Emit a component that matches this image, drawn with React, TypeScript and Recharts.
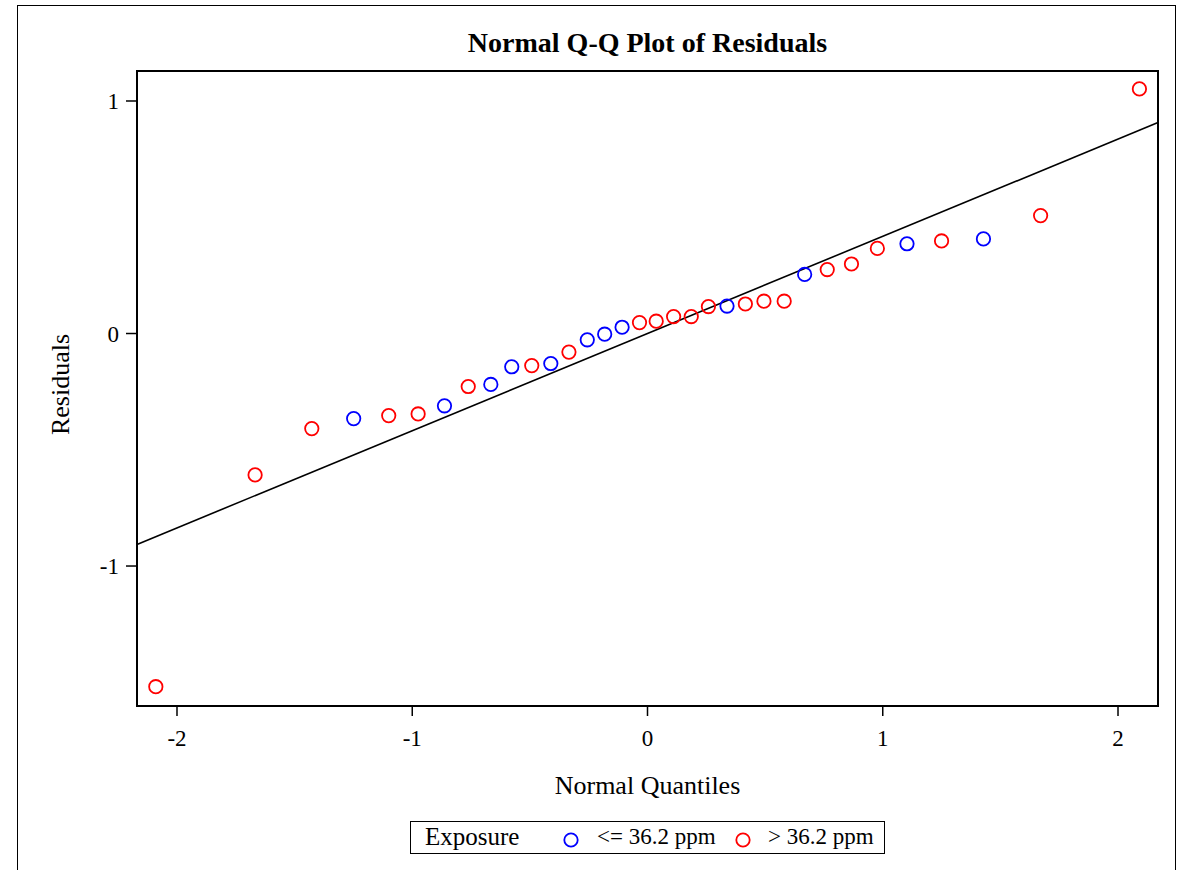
import React from 'react';
import {
  ScatterChart,
  Scatter,
  XAxis,
  YAxis,
  ReferenceArea,
  ReferenceLine,
} from 'recharts';

// normal quantiles and residuals
const normalQuantiles = [
  -2.09, -1.668, -1.427, -1.249, -1.1, -0.975, -0.863, -0.762, -0.666, -0.577, -0.492, -0.411,
  -0.334, -0.256, -0.182, -0.108, -0.034, 0.037, 0.111, 0.186, 0.259, 0.338, 0.416, 0.495,
  0.581, 0.668, 0.764, 0.867, 0.977, 1.103, 1.25, 1.428, 1.671, 2.091,
];
const residuals = [
  -1.519, -0.608, -0.409, -0.366, -0.353, -0.346, -0.311, -0.228, -0.219, -0.143, -0.138,
  -0.129, -0.08, -0.027, -0.003, 0.027, 0.047, 0.053, 0.073, 0.073, 0.116, 0.118, 0.127, 0.139,
  0.139, 0.254, 0.275, 0.299, 0.366, 0.386, 0.398, 0.407, 0.507, 1.052,
];
// 'L' = <= 36.2 ppm, 'H' = > 36.2 ppm
const exposureGroup = [
  'H', 'H', 'H', 'L', 'H', 'H', 'L', 'H', 'L', 'L', 'H', 'L', 'H', 'L', 'L', 'L', 'H',
  'H', 'H', 'H', 'H', 'L', 'H', 'H', 'H', 'L', 'H', 'H', 'H', 'L', 'H', 'L', 'H', 'H',
];

const xTicks = [-2, -1, 0, 1, 2];
const yTicks = [-1, 0, 1];
const xDomain: [number, number] = [-2.17, 2.17];
const yDomain: [number, number] = [-1.602, 1.129];

// reference line: residual = intercept + slope * quantile
const fitIntercept = 0;
const fitSlope = 0.418;

const FONT = '"Liberation Serif", "Times New Roman", serif';
const BLUE = '#0000ff';
const RED = '#ff0000';

type Pt = { q: number; r: number };

const points: (Pt & { g: string })[] = normalQuantiles.map((q, i) => ({
  q,
  r: residuals[i],
  g: exposureGroup[i],
}));
const lowData: Pt[] = points.filter((p) => p.g === 'L');
const highData: Pt[] = points.filter((p) => p.g === 'H');

const openCircle = (color: string) => (props: any) => {
  const { cx, cy } = props;
  if (cx == null || cy == null) return <g />;
  return <circle cx={cx} cy={cy} r={6.7} fill="none" stroke={color} strokeWidth={1.8} />;
};

const tickStyle = { fill: '#000', fontSize: 23, fontFamily: FONT };

const renderYLabel = (props: any) => {
  const vb = props.viewBox || {};
  const cx = 60;
  const cy = (vb.y ?? 71) + (vb.height ?? 635) / 2 - 4;
  return (
    <text
      x={cx}
      y={cy}
      transform={`rotate(-90, ${cx}, ${cy})`}
      textAnchor="middle"
      dominantBaseline="central"
      fontSize={26}
      fontFamily={FONT}
      fill="#000"
    >
      Residuals
    </text>
  );
};

const renderXLabel = (props: any) => {
  const vb = props.viewBox || {};
  const cx = (vb.x ?? 137) + (vb.width ?? 1021) / 2;
  return (
    <text
      x={cx}
      y={794}
      textAnchor="middle"
      fontSize={26}
      fontFamily={FONT}
      fill="#000"
    >
      Normal Quantiles
    </text>
  );
};

function LegendBox() {
  return (
    <div
      style={{
        position: 'absolute',
        left: 410,
        top: 821,
        width: 473,
        height: 31,
        border: '1.5px solid #000',
        fontFamily: FONT,
        fontSize: 23,
        color: '#000',
      }}
    >
      <span style={{ position: 'absolute', left: 14, top: 1, fontSize: 25 }}>Exposure</span>
      <svg style={{ position: 'absolute', left: 150, top: 8 }} width={20} height={20}>
        <circle cx={10} cy={10} r={6.7} fill="none" stroke={BLUE} strokeWidth={1.8} />
      </svg>
      <span style={{ position: 'absolute', left: 186, top: 2 }}>&lt;= 36.2 ppm</span>
      <svg style={{ position: 'absolute', left: 322, top: 8 }} width={20} height={20}>
        <circle cx={10} cy={10} r={6.7} fill="none" stroke={RED} strokeWidth={1.8} />
      </svg>
      <span style={{ position: 'absolute', left: 357, top: 2 }}>&gt; 36.2 ppm</span>
    </div>
  );
}

export default function App() {
  const lineSegment = [
    { x: xDomain[0], y: fitIntercept + fitSlope * xDomain[0] },
    { x: xDomain[1], y: fitIntercept + fitSlope * xDomain[1] },
  ];

  return (
    <div
      style={{
        position: 'absolute',
        left: 0,
        top: 0,
        width: 1182,
        height: 870,
        overflow: 'hidden',
        background: '#fff',
      }}
    >
      <div
        style={{
          position: 'absolute',
          left: 17,
          top: 5,
          width: 1157,
          height: 900,
          border: '1.5px solid #000',
        }}
      />
      <div
        style={{
          position: 'absolute',
          left: 137,
          top: 29,
          width: 1021,
          textAlign: 'center',
          fontFamily: FONT,
          fontWeight: 'bold',
          fontSize: 28,
          lineHeight: '28px',
          color: '#000',
        }}
      >
        Normal Q-Q Plot of Residuals
      </div>
      <div style={{ position: 'absolute', left: 0, top: 0 }}>
        <ScatterChart
          width={1182}
          height={870}
          margin={{ top: 71, right: 24, bottom: 0, left: 0 }}
        >
          <XAxis
            type="number"
            dataKey="q"
            domain={xDomain}
            ticks={xTicks}
            allowDataOverflow
            axisLine={false}
            tickSize={10}
            tickMargin={14}
            tickLine={{ stroke: '#000', strokeWidth: 1.5 }}
            tick={tickStyle}
            height={164}
            label={{ content: renderXLabel }}
          />
          <YAxis
            type="number"
            dataKey="r"
            domain={yDomain}
            ticks={yTicks}
            allowDataOverflow
            axisLine={false}
            tickSize={11}
            tickMargin={7}
            tickLine={{ stroke: '#000', strokeWidth: 1.5 }}
            tick={tickStyle}
            width={137}
            label={{ content: renderYLabel }}
          />
          <ReferenceArea
            x1={xDomain[0]}
            x2={xDomain[1]}
            y1={yDomain[0]}
            y2={yDomain[1]}
            fill="none"
            fillOpacity={0}
            stroke="#000"
            strokeWidth={2}
            ifOverflow="visible"
          />
          <ReferenceLine
            segment={lineSegment}
            stroke="#000"
            strokeWidth={1.6}
            ifOverflow="visible"
          />
          <Scatter
            name="<= 36.2 ppm"
            data={lowData}
            shape={openCircle(BLUE)}
            isAnimationActive={false}
          />
          <Scatter
            name="> 36.2 ppm"
            data={highData}
            shape={openCircle(RED)}
            isAnimationActive={false}
          />
        </ScatterChart>
      </div>
      <LegendBox />
    </div>
  );
}
